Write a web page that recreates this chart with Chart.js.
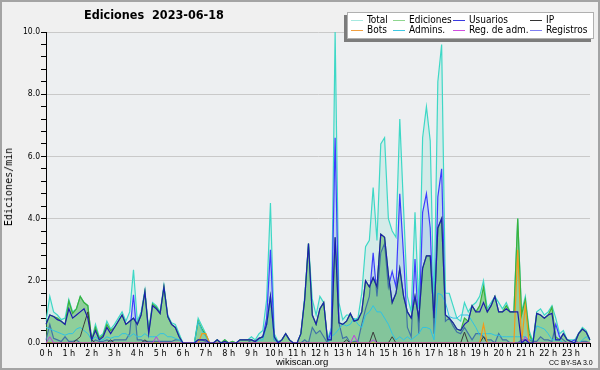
<!DOCTYPE html>
<html><head><meta charset="utf-8">
<script src="https://cdn.jsdelivr.net/npm/chart.js@4.4.1/dist/chart.umd.min.js"></script>
<style>
html,body{margin:0;padding:0;background:#f0f0f0;}
#wrap{position:relative;width:600px;height:370px;overflow:hidden;font-family:"DejaVu Sans Condensed","Liberation Sans",sans-serif;}
#frame{position:absolute;left:0;top:0;width:596px;height:366px;border:2px solid #a4a4a4;pointer-events:none;}
canvas{position:absolute;left:0;top:0;}
.t{position:absolute;white-space:pre;color:#000;line-height:1;}
#legend{position:absolute;left:347px;top:12px;width:245px;height:25px;background:#fff;border:1px solid #b0b0b0;box-shadow:-3px 3px 0 #7c7c7c;}
.li{position:absolute;height:10px;font-size:10px;line-height:10px;white-space:pre;}
.li span.l{position:absolute;left:0;top:5px;width:12px;height:1px;}
.li span.x{position:absolute;left:16px;top:0;}
</style></head>
<body><div id="wrap">
<canvas id="c" width="600" height="370"></canvas>
<div class="t" id="title" style="left:84px;top:9px;font-size:12.5px;font-weight:bold;">Ediciones  2023-06-18</div>
<div class="t" id="ylab" style="left:9px;top:187px;font-family:'DejaVu Sans Mono',monospace;font-size:10px;transform:translate(-50%,-50%) rotate(-90deg);">Ediciones/min</div>
<div class="t" style="left:276px;top:357px;font-size:9.5px;font-family:'Liberation Sans',sans-serif;">wikiscan.org</div>
<div class="t" style="left:549px;top:359px;font-size:7px;font-family:'Liberation Sans',sans-serif;">CC BY-SA 3.0</div>
<div id="legend"></div>
<div id="frame"></div>
</div>
<script>
// ---- data (edits per minute, 10-minute steps, 00:00 .. 23:50) ----
const hourLabels = [];
for (let h = 0; h < 24; h++) { for (let m = 0; m < 6; m++) hourLabels.push(m === 0 ? h + ' h' : ''); }

const total = [
0.7,1.5,1.0,0.9,0.75,0.8, 1.4,1.0,1.1,1.5,1.3,1.2, 0.1,0.6,0.2,0.3,0.7,0.45,
0.6,0.8,1.0,0.7,1.0,2.35, 0.7,1.0,1.7,0.4,1.3,1.2, 1.0,1.85,0.9,0.65,0.6,0.3,
0,0,0,0,0.8,0.55, 0.3,0,0,0.1,0,0.1, 0,0.05,0,0.1,0.1,0.1,
0.2,0.1,0.3,0.4,1.4,4.5, 0.3,0.05,0.1,0.3,0.1,0, 0,0.3,1.5,3.2,1.4,0.9,
1.5,1.3,0.1,0.5,10.0,1.3, 0.75,0.9,0.9,0.75,0.8,1.6, 3.1,3.3,5.0,3.3,6.4,6.6,
4.0,3.6,3.4,7.2,4.3,1.5, 1.0,4.2,1.1,6.6,7.6,6.5, 1.1,8.4,9.6,1.6,1.6,1.2,
0.8,0.7,1.3,1.0,1.2,1.3, 1.5,2.0,1.1,1.3,1.5,1.3, 1.1,1.3,1.0,1.0,4.0,1.0,
1.5,0.4,0.05,1.0,1.1,0.9, 1.0,1.2,0.8,0.3,0.4,0.1, 0.1,0.1,0.3,0.5,0.4,0.1];

const ediciones = [
0.6,0.9,0.85,0.8,0.7,0.6, 1.35,0.95,1.1,1.5,1.3,1.2, 0.1,0.5,0.15,0.25,0.6,0.4,
0.5,0.7,0.9,0.6,0.7,0.8, 0.6,0.9,1.65,0.35,1.25,1.15, 0.95,1.8,0.85,0.6,0.5,0.2,
0,0,0,0,0.7,0.45, 0.25,0,0,0.1,0,0.1, 0,0.05,0,0.1,0.1,0.1,
0.1,0.05,0.15,0.2,0.6,1.5, 0.2,0,0.1,0.3,0.1,0, 0,0.3,1.4,3.2,0.9,0.6,
1.1,1.3,0.1,0.1,3.4,0.65, 0.6,0.7,0.95,0.7,0.75,1.0, 2.0,1.8,2.1,1.8,3.5,3.4,
2.2,1.3,1.6,2.4,1.5,1.0, 0.8,1.5,0.8,2.4,2.8,2.8, 0.8,3.7,4.0,0.9,0.8,0.65,
0.45,0.4,0.8,0.7,1.2,1.0, 1.2,1.8,1.0,1.2,1.5,1.0, 1.0,1.2,1.0,1.0,4.0,0.9,
1.4,0.3,0.0,0.95,0.9,0.8, 0.9,1.15,0.2,0.1,0.3,0.1, 0.05,0.0,0.3,0.45,0.35,0.1];

const usuarios = [
0.6,0.9,0.85,0.75,0.7,0.6, 1.1,0.8,0.9,1.0,1.1,0.8, 0.1,0.4,0.1,0.2,0.5,0.3,
0.5,0.7,0.9,0.6,0.7,0.8, 0.6,0.9,1.65,0.3,1.2,1.1, 0.95,1.8,0.85,0.6,0.5,0.2,
0,0,0,0,0.1,0.1, 0.1,0,0,0.1,0,0.05, 0,0,0,0.1,0.1,0.1,
0.1,0.05,0.15,0.2,0.6,1.5, 0.2,0,0.1,0.3,0.1,0, 0,0.3,1.4,3.2,0.9,0.6,
1.1,1.3,0.1,0.1,3.4,0.65, 0.6,0.7,0.95,0.7,0.75,1.0, 2.0,1.8,2.1,1.8,3.5,3.4,
2.2,1.3,1.6,2.4,1.5,1.0, 0.8,1.5,0.8,2.4,2.8,2.8, 0.8,3.7,4.0,0.9,0.8,0.65,
0.45,0.4,0.6,0.7,1.2,1.0, 1.0,1.3,1.0,1.2,1.5,1.0, 1.0,1.1,1.0,1.0,1.0,0.0,
0.1,0.0,0.0,0.95,0.9,0.8, 0.9,0.95,0.1,0.1,0.3,0.1, 0.05,0,0.3,0.45,0.35,0.1];

const ip = [
0,0,0,0,0,0, 0,0,0.1,0.2,0.6,1.0, 0.1,0,0,0,0,0.1,
0,0,0,0,0,0, 0,0,0.1,0,0,0, 0,0,0,0,0,0,
0,0,0,0,0,0, 0,0,0,0,0,0, 0,0,0,0,0,0,
0,0,0,0,0,0, 0,0,0,0,0,0, 0,0,0,0,0,0,
0,0,0,0,0,0, 0,0.1,0,0,0,0, 0,0,0.35,0,0,0,
0,0.2,0,0,0,0, 0,0,0,0,0,0, 0,0,0,0,0,0,
0,0,0.35,0,0,0, 0,0.2,0,0,0,0, 0,0,0,0,0,0,
0,0,0,0,0,0, 0,0,0,0,0,0, 0,0,0,0,0,0];

const bots = [
0,0,0,0,0,0, 0,0,0,0,0,0, 0,0,0,0,0,0,
0,0,0,0,0,0, 0,0,0,0,0,0, 0,0,0,0,0,0,
0,0,0,0,0,0.3, 0.3,0,0,0,0,0, 0,0,0,0,0,0,
0,0,0,0,0,0, 0,0,0,0,0,0, 0,0,0,0,0,0,
0,0,0,0,0,0, 0,0,0,0,0,0, 0,0,0,0,0,0,
0,0,0,0,0,0, 0,0,0,0,0,0, 0,0,0,0,0,0,
0,0,0,0,0,0, 0,0.6,0,0,0,0, 0,0,0,0,3.0,0,
1.2,0,0,0,0,0, 0,0,0,0,0,0, 0,0,0,0,0,0];

const admins = [
0.5,0.45,0.4,0.35,0.3,0.25, 0.3,0.3,0.45,0.5,0.4,0.3, 0.1,0.2,0.1,0.1,0.2,0.15,
0.2,0.2,0.3,0.3,0.2,0.3, 0.2,0.2,0.3,0.2,0.2,0.2, 0.3,0.3,0.2,0.2,0.15,0.1,
0,0,0,0,0.7,0.4, 0.2,0,0,0,0,0, 0,0,0,0,0,0,
0,0,0.1,0.1,0.6,1.5, 0.1,0,0,0,0,0, 0,0,0,0,0,0,
0,0,0,0.2,0.3,0.45, 0.6,0.55,0.6,0.8,0.6,0.5, 0.9,1.0,1.2,1.0,1.0,0.8,
0.6,0.3,0.1,0.2,0.1,0.2, 0.1,0.2,0.3,0.5,0.5,0.45, 0.1,1.6,1.55,1.3,0.85,0.8,
0.8,0.9,0.9,0.9,0.7,0.5, 0.25,0.3,0.3,0.3,0.25,0.25, 0.2,0.2,0.2,0.2,0.2,0.2,
0.2,0.1,0.1,0.55,0.5,0.45, 0.3,0.1,0.1,0.1,0,0, 0,0,0,0.1,0.2,0.1];

const regAdm = [
0,0.2,0,0,0,0, 0,0,0,0,0,0, 0,0,0,0,0,0,
0,0,0,0,0,0, 0,0,0,0,0,0.2, 0,0,0,0,0,0,
0,0,0,0,0,0, 0,0,0,0,0,0, 0,0,0,0,0,0,
0,0,0,0,0,0, 0,0,0,0,0,0, 0,0,0,0,0,0,
0,0,0,0,0,0, 0,0,0,0.25,0,0, 0,0,0.1,0,0,0,
0,0,0,0,0,0, 0,0,0,0,0,0, 0,0,0,0,0,0,
0,0,0,0,0,0, 0,0,0,0,0,0, 0,0,0,0,0,0,
0.2,0,0,0,0,0, 0,0,0,0,0,0, 0,0,0,0,0,0];

const registros = [
0.1,0.6,0.15,0.1,0.05,0.2, 0.05,0.05,0.1,0,0,0, 0,0.1,0.05,0.05,0.1,0.05,
0.1,0.1,0.1,0.1,0.3,1.55, 0.1,0.1,0.05,0.05,0.05,0.05, 0.05,0.05,0.05,0.05,0.1,0.1,
0,0,0,0,0.1,0.1, 0.05,0,0,0,0,0, 0,0,0,0,0,0,
0.1,0.05,0.15,0.2,0.8,3.0, 0.1,0.05,0,0,0,0, 0,0,0.1,0,0.5,0.3,
0.4,0.2,0,0.4,6.6,0.65, 0.15,0.2,0,0.05,0.05,0.6, 1.1,1.5,2.9,1.5,2.9,3.2,
1.8,2.3,1.8,4.8,2.8,0.5, 0.2,2.7,0.3,4.2,4.8,3.7, 0.3,4.7,5.6,0.7,0.8,0.55,
0.35,0.3,0.5,0.3,0.1,0.3, 0.3,0.2,0.1,0.1,0,0.3, 0.1,0.1,0,0,0,0.1,
0.1,0.1,0.05,0.05,0.2,0.1, 0.1,0.05,0.6,0.2,0.1,0, 0.05,0.1,0,0.05,0.05,0];

const yTickLabels = ['0.0','2.0','4.0','6.0','8.0','10.0'];
const yTickValues = [];
for (let k = 0; k <= 25; k++) yTickValues.push(Math.round(k * 4) / 10);

// ---- legend ----
const legendItems = [
  ['Total','#a6e9e0',0,0],['Ediciones','#8fd68f',1,0],['Usuarios','#3a3ae0',2,0],['IP','#333333',3,0],
  ['Bots','#f2a040',0,1],['Admins.','#40c8e2',1,1],['Reg. de adm.','#d04ee0',2,1],['Registros','#7f7ff2',3,1]
];
const colX = [3, 45, 105, 182];
const lg = document.getElementById('legend');
legendItems.forEach(([name,col,cx,ry]) => {
  const d = document.createElement('div');
  d.className = 'li';
  d.style.left = colX[cx] + 'px';
  d.style.top = (2 + ry * 10) + 'px';
  d.innerHTML = '<span class="l" style="background:'+col+'"></span><span class="x">'+name+'</span>';
  lg.appendChild(d);
});

// ---- chart ----
const bgPlugin = {
  id: 'bg',
  beforeDraw(chart) {
    const {ctx, chartArea: a} = chart;
    ctx.save();
    ctx.fillStyle = '#edeff1';
    ctx.fillRect(a.left, a.top, a.right - a.left, a.bottom - a.top);
    ctx.restore();
  }
};

function ds(label, data, color, fill, order, width) {
  return {label, data, borderColor: color, backgroundColor: fill || 'transparent',
    fill: fill ? 'origin' : false, order, borderWidth: width || 1, pointRadius: 0, tension: 0};
}
function isMajor(v) { const k = Math.round(v / 2); return Math.abs(v - 2 * k) < 1e-6; }

new Chart(document.getElementById('c'), {
  type: 'line',
  data: {
    labels: hourLabels,
    datasets: [
      ds('Total', total, '#3ed8c6', 'rgba(80,215,195,0.16)', 9, 1.2),
      ds('Registros', registros, '#3d3dff', 'rgba(110,150,235,0.22)', 8, 1.2),
      ds('Ediciones', ediciones, '#3cb23c', 'rgba(70,175,70,0.48)', 7, 1.2),
      ds('Admins.', admins, '#2fc2e4', null, 6, 1),
      ds('IP', ip, '#3a3a3a', null, 5, 1),
      ds('Bots', bots, '#f29a1a', null, 4, 1.2),
      ds('Reg. de adm.', regAdm, '#c23ee0', null, 3, 1),
      ds('Usuarios', usuarios, '#1d1dae', null, 2, 1.2)
    ]
  },
  options: {
    responsive: false, animation: false,
    layout: {padding: {left: 10, right: 10, top: 32, bottom: 0}},
    plugins: {legend: {display: false}, tooltip: {enabled: false}, title: {display: false}},
    scales: {
      x: {
        type: 'category', offset: false,
        ticks: {autoSkip: false, maxRotation: 0, minRotation: 0, color: '#000', padding: 1,
          font: {family: '"DejaVu Sans Condensed","Liberation Sans",sans-serif', size: 9}},
        grid: {drawOnChartArea: false, tickLength: 4, tickColor: '#000', color: '#000', offset: false},
        border: {color: '#000', width: 1},
        afterFit(s) { s.height = 27; }
      },
      y: {
        min: 0, max: 10,
        afterBuildTicks(s) { s.ticks = yTickValues.map(v => ({value: v})); },
        ticks: {color: '#000', padding: 1, autoSkip: false,
          font: {family: '"DejaVu Sans Condensed","Liberation Sans",sans-serif', size: 8.5},
          callback(v) { return isMajor(v) ? yTickLabels[Math.round(v / 2)] : ''; }},
        grid: {tickLength: 5, tickColor: '#000',
          color(c) { const v = c.tick ? c.tick.value : 0;
            return (isMajor(v) && v > 0) ? '#c9c9c9' : 'rgba(0,0,0,0)'; }},
        border: {color: '#000', width: 1},
        afterFit(s) { s.width = 36; }
      }
    }
  },
  plugins: [bgPlugin]
});
</script>
</body></html>
